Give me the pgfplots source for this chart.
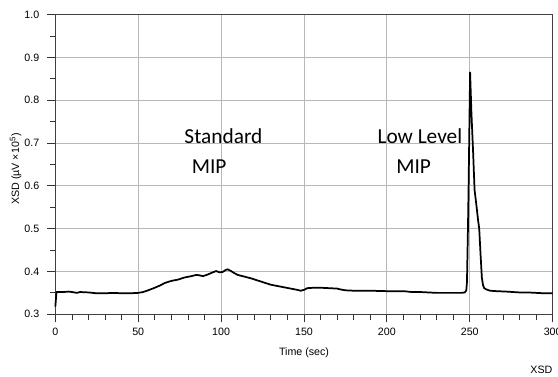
\documentclass[border=0pt]{standalone}
\usepackage{fontspec}
\setmainfont{Liberation Sans}
\newfontfamily\calib{Carlito}
\usepackage{pgfplots}
\pgfplotsset{compat=1.18}
\begin{document}
\begin{tikzpicture}
\begin{axis}[
  at={(0pt,0pt)}, anchor=south west,
  width=373pt, height=224.7pt, scale only axis,
  xmin=0, xmax=300, ymin=0.3, ymax=1.0,
  xtick={0,50,...,300}, ytick={0.3,0.4,0.5,0.6,0.7,0.8,0.9,1.0},
  minor x tick num=4, minor y tick num=1,
  grid=major, major grid style={black!28, line width=0.6pt},
  tick align=outside, xtick pos=left, ytick pos=left,
  major tick length=6pt, minor tick length=4pt,
  every tick/.style={black!80, line width=0.6pt},
  axis line style={black!75, line width=0.8pt},
  ticklabel style={font=\fontsize{8}{9.5}\selectfont},
  /pgf/number format/assume math mode=true,
  yticklabel style={xshift=-2.5pt, /pgf/number format/.cd, fixed, fixed zerofill, precision=1},
  xticklabel style={yshift=-0.8pt},
  xlabel={Time (sec)},
  ylabel={XSD (µV ×10\textsuperscript{5})},
  label style={font=\fontsize{8}{9.5}\selectfont},
  xlabel style={at={(axis description cs:0.5,-0.129)}, anchor=center},
  ylabel style={at={(axis description cs:-0.08,0.485)}, anchor=center, rotate=0},
  clip=false,
]
\addplot[black, line width=1.3pt, line join=round] coordinates {
(0,0.318) (0.7,0.352) (5,0.352) (8,0.353) (10,0.352) (13,0.350) (15,0.352)
(20,0.351) (25,0.349) (30,0.349) (35,0.350) (40,0.349) (45,0.349) (50,0.350)
(53,0.352) (56,0.356) (60,0.362) (63,0.367) (66,0.373) (70,0.378) (74,0.381)
(78,0.386) (82,0.389) (85,0.392) (87,0.391) (89,0.389) (92,0.393) (95,0.398)
(97,0.401) (99,0.398) (101,0.399) (103,0.404) (104,0.405) (106,0.401) (108,0.396)
(110,0.392) (114,0.388) (118,0.384) (122,0.379) (126,0.374) (130,0.369)
(134,0.366) (138,0.363) (142,0.360) (146,0.357) (148,0.355) (150,0.357)
(152,0.361) (156,0.362) (160,0.362) (165,0.361) (170,0.360) (172,0.358)
(175,0.356) (180,0.355) (190,0.355) (200,0.354) (210,0.354) (215,0.352)
(220,0.352) (225,0.351) (230,0.350) (235,0.350) (240,0.350) (245,0.350)
(247,0.351) (247.9,0.356) (248.3,0.375) (248.9,0.5) (249.3,0.6) (249.8,0.75)
(250.2,0.865) (251,0.77) (252,0.68) (252.9,0.59) (254,0.555) (255,0.52)
(255.7,0.5) (256.5,0.44) (257.3,0.385) (258,0.368) (258.7,0.361) (260,0.358)
(262.3,0.355) (266,0.354) (272,0.353) (276,0.352) (280,0.351) (285,0.351)
(290,0.350) (295,0.349) (300,0.349)
};
\node[font=\calib\fontsize{16}{19}\selectfont] at (axis cs:101.4,0.715) {Standard};
\node[font=\calib\fontsize{16}{19}\selectfont] at (axis cs:92.8,0.645) {MIP};
\node[font=\calib\fontsize{16}{19}\selectfont] at (axis cs:219.9,0.715) {Low Level};
\node[font=\calib\fontsize{16}{19}\selectfont] at (axis cs:216.1,0.645) {MIP};
\node[anchor=east, inner sep=0pt, font=\fontsize{8}{9.5}\selectfont] at ([yshift=-41.8pt]rel axis cs:1,0) {XSD};
\end{axis}
\pgfresetboundingbox
\path (-41.5pt,-46.3pt) rectangle (377pt,235.7pt);
\end{tikzpicture}
\end{document}
